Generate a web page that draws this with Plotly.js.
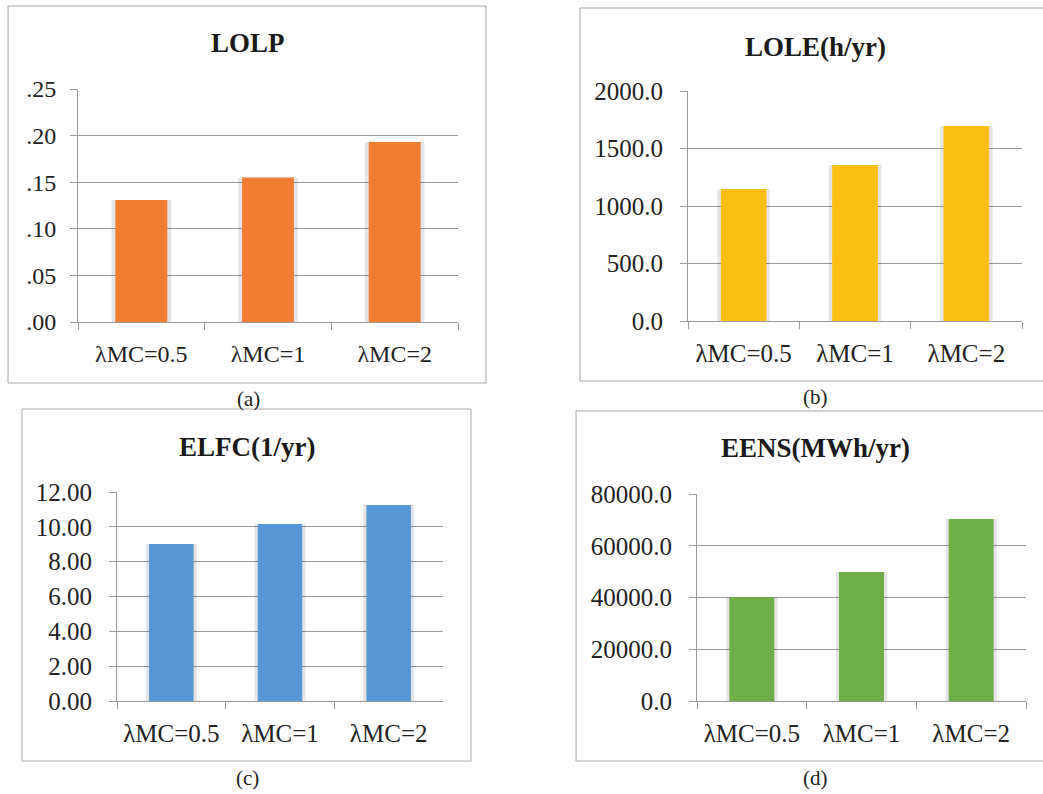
<!DOCTYPE html>
<html>
<head>
<meta charset="utf-8">
<script src="https://cdn.plot.ly/plotly-3.0.1.min.js"></script>
<style>
html,body{margin:0;padding:0;background:#fff;}
#chart{width:1043px;height:794px;}
</style>
</head>
<body>
<div id="chart"></div>
<script>
// ---- data ----
const categories = ["λMC=0.5", "λMC=1", "λMC=2"];
const lolpValues = [0.131, 0.155, 0.193];
const loleValues = [1148, 1357, 1696];
const elfcValues = [9.01, 10.16, 11.25];
const eensValues = [40200, 49900, 70300];
const lolpTickVals = [0, 0.05, 0.10, 0.15, 0.20, 0.25];
const lolpTickText = [".00", ".05", ".10", ".15", ".20", ".25"];
const panelTitles = ["LOLP", "LOLE(h/yr)", "ELFC(1/yr)", "EENS(MWh/yr)"];
const panelCaptions = ["(a)", "(b)", "(c)", "(d)"];

// ---- layout helpers ----
const W = 1043, H = 794;
const px = v => v / W;
const py = v => 1 - v / H;
const FONT = "Liberation Serif";
const GRID = "#9a9a9a";
const TXT = "#222222";

const panels = [
  {plot:[78,458,89,322],  box:[8,486,6,383],    title:[248,43],  cap:[248,399], color:"#EF7E33", vals:lolpValues, ystand:9},
  {plot:[688,1022,91,321],box:[580,1060,8,381], title:[815,47],  cap:[815,397], color:"#FCBF14", vals:loleValues, ystand:12},
  {plot:[117,443,492,701],box:[22,471,409,761], title:[247,447], cap:[247,778], color:"#5697D6", vals:elfcValues, ystand:12},
  {plot:[697,1026,494,701],box:[576,1060,411,761],title:[815,448],cap:[815,778], color:"#6FAD46", vals:eensValues, ystand:12}
];

const yCfg = [
  {range:[0,0.25], tickvals:lolpTickVals, ticktext:lolpTickText, tickmode:"array", size:24},
  {range:[0,2000], dtick:500, tickformat:".1f", size:25},
  {range:[0,12], dtick:2, tickformat:".2f", size:25},
  {range:[0,80000], dtick:20000, tickformat:".1f", size:25}
];

const data = [];
const layout = {
  width: W, height: H,
  margin: {l:0, r:0, t:0, b:0},
  paper_bgcolor: "#ffffff",
  plot_bgcolor: "#ffffff",
  showlegend: false,
  barmode: "overlay",
  shapes: [], annotations: [],
  font: {family: FONT, color: TXT}
};

panels.forEach((p, i) => {
  const n = i + 1;
  const xa = n === 1 ? "x" : "x" + n;
  const ya = n === 1 ? "y" : "y" + n;
  // soft shadow behind bars
  data.push({type:"bar", x:categories, y:p.vals, xaxis:xa, yaxis:ya, width:0.47,
    marker:{color:"rgba(0,0,0,0.10)", line:{width:0}}, hoverinfo:"skip"});
  data.push({type:"bar", x:categories, y:p.vals, xaxis:xa, yaxis:ya, width:0.41,
    marker:{color:p.color, line:{width:0}}});

  const xKey = n === 1 ? "xaxis" : "xaxis" + n;
  const yKey = n === 1 ? "yaxis" : "yaxis" + n;
  layout[xKey] = {
    domain:[px(p.plot[0]), px(p.plot[1])], anchor: ya,
    type:"category", range:[-0.5, 2.5], fixedrange:true,
    showline:true, linecolor:GRID, linewidth:1,
    ticks:"outside", tickson:"boundaries", ticklen:7, tickcolor:GRID, tickwidth:1,
    showgrid:false, zeroline:false,
    tickfont:{family:FONT, size:yCfg[i].size, color:TXT},
    ticklabelstandoff: 10
  };
  const y = {
    domain:[py(p.plot[3]), py(p.plot[2])], anchor: xa,
    range: yCfg[i].range, fixedrange:true,
    showline:true, linecolor:GRID, linewidth:1,
    showgrid:true, gridcolor:GRID, gridwidth:1,
    zeroline:false,
    ticks:"outside", ticklen:7, tickcolor:GRID, tickwidth:1,
    tickfont:{family:FONT, size:yCfg[i].size, color:TXT},
    ticklabelstandoff: p.ystand
  };
  if (yCfg[i].tickmode) { y.tickmode = "array"; y.tickvals = yCfg[i].tickvals; y.ticktext = yCfg[i].ticktext; }
  else { y.tickmode = "linear"; y.tick0 = 0; y.dtick = yCfg[i].dtick; y.tickformat = yCfg[i].tickformat; }
  layout[yKey] = y;

  layout.shapes.push({type:"rect", xref:"paper", yref:"paper",
    x0:px(p.box[0]), x1:px(p.box[1]), y0:py(p.box[3]), y1:py(p.box[2]),
    line:{color:"#a6a6a6", width:1}, fillcolor:"rgba(0,0,0,0)", layer:"below"});
  layout.annotations.push({xref:"paper", yref:"paper", x:px(p.title[0]), y:py(p.title[1]),
    text:"<b>"+panelTitles[i]+"</b>", showarrow:false, xanchor:"center", yanchor:"middle",
    font:{family:FONT, size:27, color:"#1a1a1a"}});
  layout.annotations.push({xref:"paper", yref:"paper", x:px(p.cap[0]), y:py(p.cap[1]),
    text:panelCaptions[i], showarrow:false, xanchor:"center", yanchor:"middle",
    font:{family:FONT, size:21, color:TXT}});
});

Plotly.newPlot("chart", data, layout, {staticPlot:true, displayModeBar:false});
</script>
</body>
</html>
